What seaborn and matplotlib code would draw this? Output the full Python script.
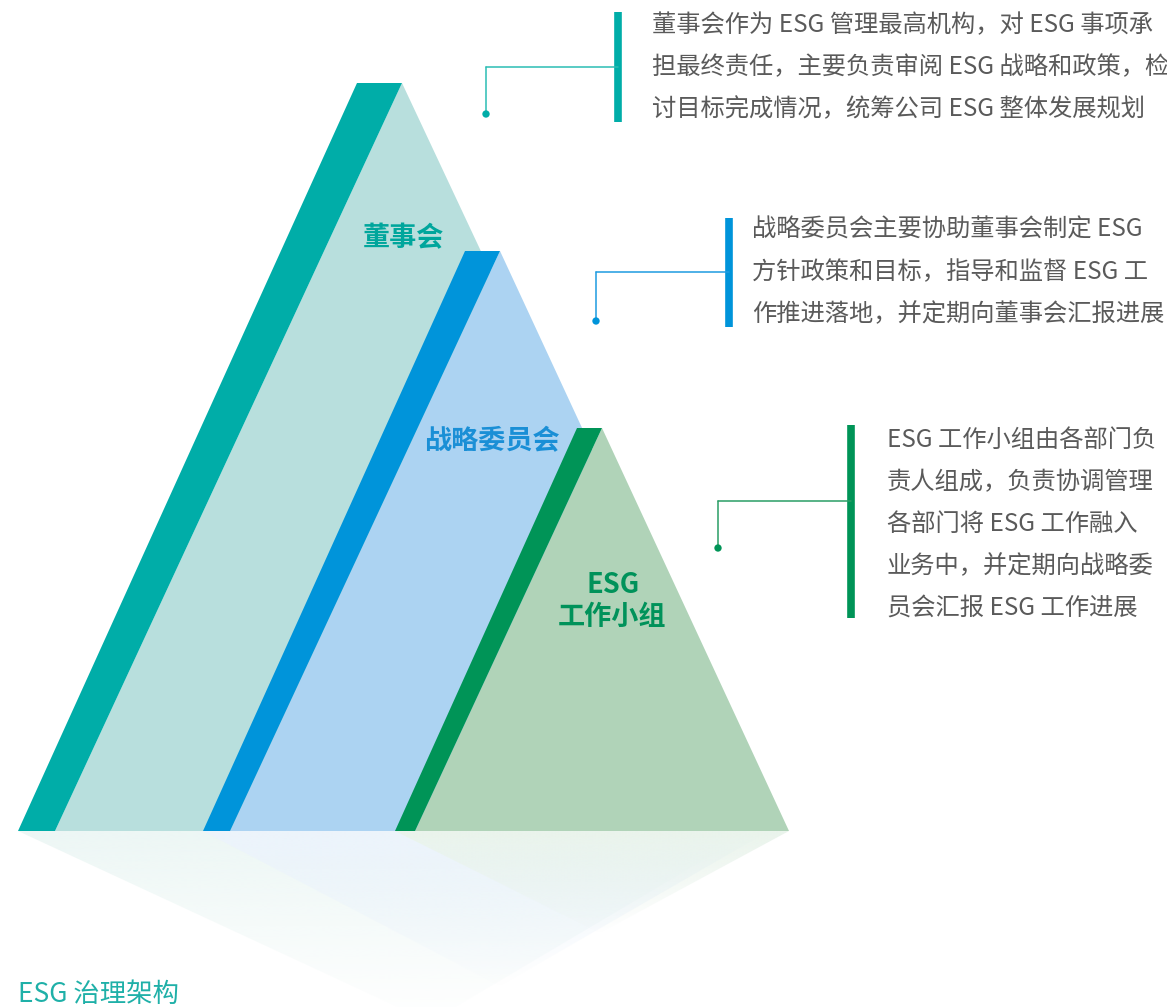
import numpy as np
import pandas as pd
import matplotlib
matplotlib.use("Agg")
import matplotlib.pyplot as plt
from matplotlib.patches import Polygon
import seaborn as sns

# tiers of the governance structure, top to bottom
tier_names = ["董事会", "战略委员会", "ESG 工作小组"]
tier_dark = ["#00ada8", "#0094da", "#009457"]
tier_light = ["#b8dfdd", "#acd3f2", "#b0d3b8"]
tier_label = ["#00a69c", "#1a8fd6", "#00925a"]
tier_shadow = ["#edf7f5", "#ecf4fc", "#eaf4ec"]
tier_line = ["#2bbdb4", "#1e9be0", "#2a9e66"]

board_lines = ["董事会作为 ESG 管理最高机构，对 ESG 事项承",
               "担最终责任，主要负责审阅 ESG 战略和政策，检",
               "讨目标完成情况，统筹公司 ESG 整体发展规划"]
committee_lines = ["战略委员会主要协助董事会制定 ESG",
                   "方针政策和目标，指导和监督 ESG 工",
                   "作推进落地，并定期向董事会汇报进展"]
group_lines = ["ESG 工作小组由各部门负",
               "责人组成，负责协调管理",
               "各部门将 ESG 工作融入",
               "业务中，并定期向战略委",
               "员会汇报 ESG 工作进展"]
desc_lines = [board_lines, committee_lines, group_lines]

title = "ESG 治理架构"

# layout in pixel units (y grows downward)
base_y = 831
stripe = [[(18, 831), (55, 831), (402, 83), (357, 83)],
          [(203, 831), (230, 831), (500, 251), (465, 251)],
          [(395, 831), (415, 831), (602, 428), (577, 428)]]
light = [[(55, 831), (753, 831), (402, 83)],
         [(230, 831), (769, 831), (500, 251)],
         [(415, 831), (789, 831), (602, 428)]]
shadow = [[(18, 831), (753, 831), (430, 1022)],
          [(203, 831), (769, 831), (500, 986)],
          [(395, 831), (789, 831), (600, 933)]]

bar_x = [618, 728.5, 850.5]
bar_y = [(12, 122), (218, 327), (425, 618)]
text_x = [652, 752, 887]
text_y = [[25, 67, 109], [230, 272, 314], [440, 482, 524, 566, 608]]
hook_y = [67, 272, 501]
dot_x = [486, 596, 718]
dot_y = [114, 321, 548]

sns.set_theme(style="white")
plt.rcParams['font.family'] = ['Noto Sans CJK SC', 'DejaVu Sans']

fig = plt.figure(figsize=(11.67, 10.07), dpi=100)
ax = fig.add_axes([0, 0, 1, 1])

# faint reflections under the triangles
for i in range(3):
    pts = np.array(shadow[i])
    rgb = matplotlib.colors.to_rgb(tier_shadow[i])
    grad = np.zeros((200, 1, 4))
    grad[:, 0, :3] = rgb
    grad[:, 0, 3] = np.linspace(1.0, 0.0, 200)
    poly = Polygon(pts, closed=True, facecolor="none", edgecolor="none")
    ax.add_patch(poly)
    im = ax.imshow(grad, extent=(pts[:, 0].min(), pts[:, 0].max(), pts[:, 1].max(), base_y),
                   origin="upper", aspect="auto", interpolation="bilinear", zorder=1)
    im.set_clip_path(poly)

# triangles
for i in range(3):
    ax.add_patch(Polygon(light[i], closed=True, facecolor=tier_light[i], edgecolor="none", zorder=2 + i))
    ax.add_patch(Polygon(stripe[i], closed=True, facecolor=tier_dark[i], edgecolor="none", zorder=2 + i))

# tier labels
label_kw = dict(fontsize=19.5, fontweight="bold", ha="center", va="center", zorder=10)
ax.text(403, 238, tier_names[0], color=tier_label[0], **label_kw)
ax.text(492, 441, tier_names[1], color=tier_label[1], **label_kw)
esg, group = tier_names[2].split(" ")
ax.text(613, 585, esg, color=tier_label[2], **label_kw)
ax.text(612, 617, group, color=tier_label[2], **label_kw)

# description blocks with connector hooks
for i in range(3):
    ax.plot([bar_x[i], bar_x[i]], bar_y[i], color=tier_dark[i], lw=5.5,
            solid_capstyle="butt", zorder=5)
    ax.plot([dot_x[i], bar_x[i]], [hook_y[i], hook_y[i]], color=tier_line[i], lw=1.1, zorder=5)
    ax.plot([dot_x[i], dot_x[i]], [hook_y[i], dot_y[i]], color=tier_line[i], lw=1.1, zorder=5)
    for line, y in zip(desc_lines[i], text_y[i]):
        ax.text(text_x[i], y, line, fontsize=17.5, fontweight="light", color="#5a5a5a",
                ha="left", va="center")

dots = pd.DataFrame({"x": dot_x, "y": dot_y, "tier": tier_names})
sns.scatterplot(data=dots, x="x", y="y", hue="tier", palette=tier_dark, s=28,
                edgecolor="none", legend=False, ax=ax, zorder=6)

ax.text(18, 981, title, fontsize=19, fontweight="light", color="#1fb0a8", ha="left", va="top")

ax.set_xlim(0, 1167)
ax.set_ylim(1007, 0)
ax.set_axis_off()

fig.savefig("out.png", dpi=100)
